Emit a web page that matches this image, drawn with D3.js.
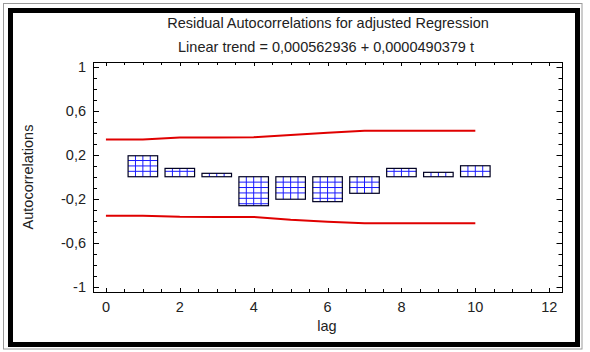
<!DOCTYPE html>
<html>
<head>
<meta charset="utf-8">
<script src="https://cdn.jsdelivr.net/npm/d3@7"></script>
<style>
    body { margin: 0; background: #fff; }
    svg text { font-family: "Liberation Sans", Arial, sans-serif; fill: #222; }
</style>
</head>
<body>
<div id="chart"></div>
<script>
// values
let lags = [1, 2, 3, 4, 5, 6, 7, 8, 9, 10];
let autocorr = [0.191, 0.076, 0.031, -0.264, -0.205, -0.227, -0.151, 0.076, 0.04, 0.1];

let limitLags = [0, 1, 2, 3, 4, 5, 6, 7, 8, 9, 10];
let upperLimit = [0.34, 0.34, 0.357, 0.358, 0.36, 0.38, 0.4, 0.418, 0.418, 0.418, 0.418];
let lowerLimit = [-0.355, -0.355, -0.365, -0.366, -0.366, -0.392, -0.41, -0.424, -0.424, -0.424, -0.424];

let xTickValues = [0, 2, 4, 6, 8, 10, 12];
let yTickValues = [1, 0.6, 0.2, -0.2, -0.6, -1];

let title = 'Residual Autocorrelations for adjusted Regression';
let subtitle = 'Linear trend = 0,000562936 + 0,0000490379 t';

let width = 590, height = 352;
let plot = { left: 93, right: 562.5, top: 62, bottom: 292 };

let svg = d3.select('#chart').append('svg')
    .attr('width', width)
    .attr('height', height);

// window frame
svg.append('rect')
    .attr('x', 3.5).attr('y', 3.5)
    .attr('width', 578.5).attr('height', 345.5)
    .attr('fill', 'none').attr('stroke', '#9a9a9a').attr('stroke-width', 1);
svg.append('rect')
    .attr('x', 10.5).attr('y', 10.5)
    .attr('width', 567).attr('height', 334)
    .attr('fill', 'none').attr('stroke', '#000').attr('stroke-width', 5);

let x = d3.scaleLinear().domain([-0.35, 12.36]).range([plot.left, plot.right]);
let y = d3.scaleLinear().domain([-1.05, 1.045]).range([plot.bottom, plot.top]);

// decimal comma, plain hyphen for negatives
let comma = d => String(d).replace('.', ',');

// ticks on all four sides, pointing inward
let xMinor = d3.range(0, 12.01, 0.5);
let yMinor = d3.range(-1, 1.001, 0.1);

let axes = svg.append('g').attr('stroke', '#000').attr('stroke-width', 1);

xMinor.forEach(v => {
    let major = Math.abs(v % 2) < 1e-9;
    let len = major ? 4 : 3;
    let px = Math.round(x(v)) + 0.5;
    axes.append('line').attr('x1', px).attr('x2', px)
        .attr('y1', plot.bottom).attr('y2', plot.bottom - len);
    axes.append('line').attr('x1', px).attr('x2', px)
        .attr('y1', plot.top).attr('y2', plot.top + len);
});

yMinor.forEach(v => {
    let major = yTickValues.some(t => Math.abs(t - v) < 1e-6);
    let len = major ? 6 : 4;
    let py = Math.round(y(v)) + 0.5;
    axes.append('line').attr('y1', py).attr('y2', py)
        .attr('x1', plot.left).attr('x2', plot.left + len);
    axes.append('line').attr('y1', py).attr('y2', py)
        .attr('x1', plot.right).attr('x2', plot.right - len);
});

svg.append('rect')
    .attr('x', plot.left + 0.5).attr('y', plot.top + 0.5)
    .attr('width', plot.right - plot.left - 0.5).attr('height', plot.bottom - plot.top)
    .attr('fill', 'none').attr('stroke', '#000');

// tick labels
svg.append('g').selectAll('text')
    .data(xTickValues)
    .enter().append('text')
    .attr('x', d => x(d))
    .attr('y', 311.5)
    .attr('text-anchor', 'middle')
    .style('font-size', '14.5px')
    .text(d => d);

svg.append('g').selectAll('text')
    .data(yTickValues)
    .enter().append('text')
    .attr('x', 86)
    .attr('y', d => y(d) + 5)
    .attr('text-anchor', 'end')
    .style('font-size', '14.5px')
    .text(d => comma(d));

// titles
svg.append('text')
    .attr('x', 328).attr('y', 28)
    .attr('text-anchor', 'middle')
    .style('font-size', '14.5px')
    .text(title);
svg.append('text')
    .attr('x', 326).attr('y', 51.5)
    .attr('text-anchor', 'middle')
    .style('font-size', '14.5px')
    .text(subtitle);
svg.append('text')
    .attr('x', 327).attr('y', 331)
    .attr('text-anchor', 'middle')
    .style('font-size', '14.5px')
    .text('lag');
svg.append('text')
    .attr('transform', 'translate(33,177) rotate(-90)')
    .attr('text-anchor', 'middle')
    .style('font-size', '14.5px')
    .text('Autocorrelations');

// bars with blue grid
let barHalf = 0.4;
let rowStep = 5.4;
let y0 = y(0);

let bars = svg.append('g').selectAll('g')
    .data(lags.map((l, i) => ({ lag: l, value: autocorr[i] })))
    .enter().append('g');

bars.append('rect')
    .attr('x', d => x(d.lag - barHalf))
    .attr('y', d => Math.min(y(d.value), y0))
    .attr('width', d => x(d.lag + barHalf) - x(d.lag - barHalf))
    .attr('height', d => Math.abs(y(d.value) - y0))
    .attr('fill', '#fff');

bars.each(function(d) {
    let g = d3.select(this);
    let x0 = x(d.lag - barHalf), x1 = x(d.lag + barHalf);
    let top = Math.min(y(d.value), y0), bottom = Math.max(y(d.value), y0);
    for (let k = 1; k < 4; k++) {
        let px = x0 + (x1 - x0) * k / 4;
        g.append('line').attr('x1', px).attr('x2', px)
            .attr('y1', top).attr('y2', bottom)
            .attr('stroke', '#1a1aff').attr('stroke-width', 1);
    }
    let sign = d.value > 0 ? -1 : 1;
    for (let py = y0 + sign * rowStep; py > top + 1 && py < bottom - 1; py += sign * rowStep) {
        g.append('line').attr('x1', x0).attr('x2', x1)
            .attr('y1', py).attr('y2', py)
            .attr('stroke', '#1a1aff').attr('stroke-width', 1);
    }
});

bars.append('rect')
    .attr('x', d => x(d.lag - barHalf))
    .attr('y', d => Math.min(y(d.value), y0))
    .attr('width', d => x(d.lag + barHalf) - x(d.lag - barHalf))
    .attr('height', d => Math.abs(y(d.value) - y0))
    .attr('fill', 'none')
    .attr('stroke', '#000022').attr('stroke-width', 1.2);

// confidence limits
let line = d3.line().x(d => x(d[0])).y(d => y(d[1]));

svg.append('path')
    .datum(limitLags.map((l, i) => [l, upperLimit[i]]))
    .attr('d', line)
    .attr('fill', 'none').attr('stroke', '#e00000').attr('stroke-width', 2);
svg.append('path')
    .datum(limitLags.map((l, i) => [l, lowerLimit[i]]))
    .attr('d', line)
    .attr('fill', 'none').attr('stroke', '#e00000').attr('stroke-width', 2);
</script>
</body>
</html>
